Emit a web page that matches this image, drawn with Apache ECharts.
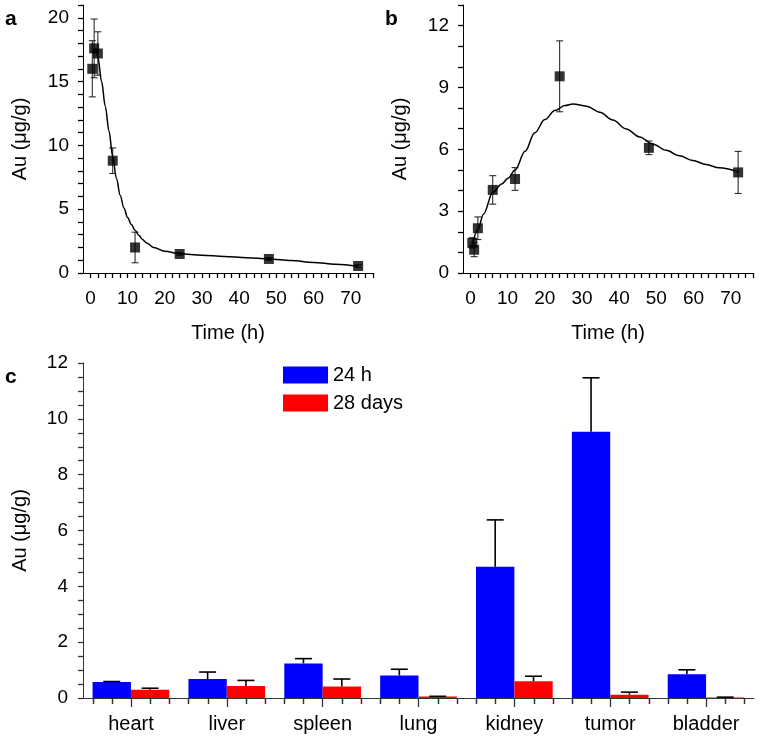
<!DOCTYPE html>
<html><head><meta charset="utf-8">
<script src="https://cdn.jsdelivr.net/npm/echarts@6/dist/echarts.min.js"></script>
<style>html,body{margin:0;padding:0;background:#fff}#c{width:759px;height:739px}</style>
</head><body><div id="c"></div>
<script>
// ---- Panel a (time course, blood) ----
const timeA = [0.5, 1, 2, 6, 12, 24, 48, 72];
const valueA = [16.0, 17.6, 17.2, 8.8, 2.0, 1.49, 1.1, 0.55];
const errA = [2.2, 2.3, 1.7, 1.0, 1.2, 0.1, 0.1, 0.1];
const fitTimeA = [1.5, 2, 3, 4, 5, 6, 7, 8, 9, 10, 11, 12, 13, 14, 15, 17, 20, 24, 30, 36, 42, 48, 54, 60, 66, 72];
const fitValueA = [17.6, 16.9, 15.0, 13.05, 11.1, 9.1, 7.4, 6.1, 5.1, 4.35, 3.8, 3.35, 2.95, 2.63, 2.38, 2.0, 1.7, 1.5, 1.4, 1.3, 1.2, 1.1, 0.97, 0.83, 0.68, 0.52];
// ---- Panel b (time course, tumor) ----
const timeB = [0.5, 1, 2, 6, 12, 24, 48, 72];
const valueB = [1.46, 1.13, 2.17, 4.03, 4.56, 9.54, 6.07, 4.88];
const errB = [0.25, 0.34, 0.55, 0.69, 0.55, 1.72, 0.33, 1.02];
const fitTimeB = [0.5, 2, 3.5, 6, 8.4, 10.2, 12, 14.7, 17.3, 20, 22.7, 25.4, 27.6, 31.2, 34.8, 38.3, 41.9, 45.5, 49.1, 52.7, 56.2, 59.8, 63.4, 66.9, 72];
const fitValueB = [1.35, 2.1, 2.85, 3.9, 4.32, 4.61, 5.0, 5.9, 6.8, 7.44, 7.88, 8.12, 8.2, 8.09, 7.8, 7.42, 6.99, 6.6, 6.25, 5.95, 5.69, 5.46, 5.26, 5.1, 4.9];
// ---- Panel c (organ distribution) ----
const organs = ['heart', 'liver', 'spleen', 'lung', 'kidney', 'tumor', 'bladder'];
const seriesNames = ['24 h', '28 days'];
const val24h = [0.57, 0.68, 1.24, 0.81, 4.70, 9.54, 0.85];
const err24h = [0.02, 0.25, 0.17, 0.22, 1.68, 1.93, 0.16];
const val28d = [0.30, 0.43, 0.41, 0.05, 0.60, 0.12, 0.02];
const err28d = [0.05, 0.20, 0.27, 0.01, 0.18, 0.09, 0.01];
// ---- axis ranges / tick values ----
const timeRange = [-2, 76], timeStep = 10;
const auRangeA = [0, 21], auStepA = 5;
const auRangeB = [0, 13], auStepB = 3;
const auRangeC = [0, 12], auStepC = 2;
const timeLabels = [0, 10, 20, 30, 40, 50, 60, 70];
const timeAllTicks = [0, 2, 4, 6, 8, 10, 12, 14, 16, 18, 20, 22, 24, 26, 28, 30, 32, 34, 36, 38, 40, 42, 44, 46, 48, 50, 52, 54, 56, 58, 60, 62, 64, 66, 68, 70, 72, 74, 76];
const auLabelsA = [0, 5, 10, 15, 20];
const auAllTicksA = [0, 1, 2, 3, 4, 5, 6, 7, 8, 9, 10, 11, 12, 13, 14, 15, 16, 17, 18, 19, 20, 21];
const auLabelsB = [0, 3, 6, 9, 12];
const auAllTicksB = [0, 1, 2, 3, 4, 5, 6, 7, 8, 9, 10, 11, 12, 13];
const auLabelsC = [0, 2, 4, 6, 8, 10, 12];
const auAllTicksC = [0, 0.5, 1, 1.5, 2, 2.5, 3, 3.5, 4, 4.5, 5, 5.5, 6, 6.5, 7, 7.5, 8, 8.5, 9, 9.5, 10, 10.5, 11, 11.5, 12];

const FONT = 'Liberation Sans, Arial, sans-serif';
const TICK_FS = 19, NAME_FS = 20;
const chart = echarts.init(document.getElementById('c'), null, {renderer: 'canvas', width: 759, height: 739});

function timeAxis(grid) {
  return {
    type: 'value', gridIndex: grid, position: 'bottom', min: timeRange[0], max: timeRange[1],
    minInterval: timeStep, maxInterval: timeStep,
    name: 'Time (h)', nameLocation: 'middle', nameGap: 50,
    nameTextStyle: {fontFamily: FONT, fontSize: NAME_FS, color: '#000'},
    axisLine: {show: true, onZero: false, lineStyle: {color: '#000', width: 1}},
    axisTick: {show: true, inside: false, length: 5, customValues: timeAllTicks, lineStyle: {color: '#000', width: 1.3}},
    axisLabel: {customValues: timeLabels, margin: 16, fontFamily: FONT, fontSize: TICK_FS, color: '#000'},
    splitLine: {show: false}
  };
}
function auAxis(grid, range, labels, ticks, margin, color) {
  return {
    type: 'value', gridIndex: grid, position: 'left', min: range[0], max: range[1],
    name: 'Au (μg/g)', nameLocation: 'middle', nameGap: 53,
    nameTextStyle: {fontFamily: FONT, fontSize: NAME_FS, color: '#000'},
    axisLine: {show: true, onZero: false, lineStyle: {color: color, width: 1}},
    axisTick: {show: true, length: 5, customValues: ticks, lineStyle: {color: color, width: 1.3}},
    axisLabel: {customValues: labels, margin: margin, fontFamily: FONT, fontSize: TICK_FS, color: '#000'},
    splitLine: {show: false}
  };
}

function pointErrRender(params, api) {
  const x = api.value(0), y = api.value(1), e = api.value(2);
  const top = api.coord([x, y + e]), bot = api.coord([x, y - e]);
  const cap = 3.5;
  const st = {stroke: '#1a1a1a', lineWidth: 1};
  return {type: 'group', children: [
    {type: 'line', shape: {x1: top[0], y1: top[1], x2: bot[0], y2: bot[1]}, style: st},
    {type: 'line', shape: {x1: top[0] - cap, y1: top[1], x2: top[0] + cap, y2: top[1]}, style: st},
    {type: 'line', shape: {x1: bot[0] - cap, y1: bot[1], x2: bot[0] + cap, y2: bot[1]}, style: st}
  ]};
}
// bar error bars drawn on an overlay value axis spanning the same category bands (-0.5 .. 6.5)
const BAR_HALF_OFFSET = 0.2; // each bar is 0.4 of a band, the pair centred on the band
function barErrRender(params, api) {
  const idx = api.value(0), v = api.value(1), e = api.value(2), side = api.value(3);
  const xc = idx + side * BAR_HALF_OFFSET;
  const base = api.coord([xc, v]), top = api.coord([xc, v + e]);
  const cap = 8.5;
  const st = {stroke: '#000', lineWidth: 1.6};
  return {type: 'group', children: [
    {type: 'line', shape: {x1: base[0], y1: base[1], x2: base[0], y2: top[1]}, style: st},
    {type: 'line', shape: {x1: base[0] - cap, y1: top[1], x2: base[0] + cap, y2: top[1]}, style: st}
  ]};
}

const pairs = (xs, ys) => xs.map((x, i) => [x, ys[i]]);
const errData = (xs, ys, es) => xs.map((x, i) => [x, ys[i], es[i]]);
const barTickValues = [];
organs.forEach((o, i) => { barTickValues.push(i - 2 * BAR_HALF_OFFSET, i - BAR_HALF_OFFSET, i + BAR_HALF_OFFSET, i + 2 * BAR_HALF_OFFSET); });

const labelGraphics = [
  {type: 'text', left: 5, top: 9, style: {text: 'a', font: 'bold 21px ' + FONT, fill: '#000'}},
  {type: 'text', left: 385, top: 9, style: {text: 'b', font: 'bold 21px ' + FONT, fill: '#000'}},
  {type: 'text', left: 5, top: 367, style: {text: 'c', font: 'bold 21px ' + FONT, fill: '#000'}}
];

const gridC = {left: 83, top: 363, width: 671, height: 335};
const option = {
  backgroundColor: '#fff',
  animation: false,
  grid: [
    {left: 83, top: 5, width: 290, height: 268},
    {left: 463, top: 5, width: 290, height: 268},
    gridC,
    Object.assign({}, gridC)
  ],
  legend: {
    data: seriesNames, orient: 'vertical', left: 283, top: 365, padding: 0,
    itemWidth: 45, itemHeight: 17, itemGap: 8, icon: 'rect',
    textStyle: {fontFamily: FONT, fontSize: NAME_FS, color: '#000'},
    selectedMode: false
  },
  graphic: labelGraphics,
  xAxis: [
    timeAxis(0),
    timeAxis(1),
    {
      type: 'category', gridIndex: 2, data: organs, position: 'bottom',
      axisLine: {show: true, lineStyle: {color: '#333', width: 1}},
      axisTick: {show: true, alignWithLabel: true, length: 9, lineStyle: {color: '#333', width: 1.3}},
      axisLabel: {margin: 16, fontFamily: FONT, fontSize: NAME_FS, color: '#000'},
      splitLine: {show: false}
    },
    {type: 'value', gridIndex: 3, position: 'bottom', min: -0.5, max: organs.length - 0.5, show: false}
  ],
  yAxis: [
    auAxis(0, auRangeA, auLabelsA, auAllTicksA, 14, '#000'),
    auAxis(1, auRangeB, auLabelsB, auAllTicksB, 14, '#000'),
    auAxis(2, auRangeC, auLabelsC, auAllTicksC, 15, '#333'),
    {type: 'value', gridIndex: 3, min: auRangeC[0], max: auRangeC[1], show: false}
  ],
  series: [
    {type: 'custom', xAxisIndex: 0, yAxisIndex: 0, renderItem: pointErrRender,
      data: errData(timeA, valueA, errA), encode: {x: 0, y: [1]}, z: 2, silent: true},
    {type: 'line', xAxisIndex: 0, yAxisIndex: 0, data: pairs(fitTimeA, fitValueA), smooth: 0.35, smoothMonotone: 'x',
      showSymbol: false, lineStyle: {color: '#000', width: 1.5}, z: 3, silent: true},
    {type: 'scatter', xAxisIndex: 0, yAxisIndex: 0, data: pairs(timeA, valueA), symbol: 'rect', symbolSize: 10,
      itemStyle: {color: '#000'}, z: 4, silent: true},

    {type: 'custom', xAxisIndex: 1, yAxisIndex: 1, renderItem: pointErrRender,
      data: errData(timeB, valueB, errB), encode: {x: 0, y: [1]}, z: 2, silent: true},
    {type: 'line', xAxisIndex: 1, yAxisIndex: 1, data: pairs(fitTimeB, fitValueB), smooth: 0.35, smoothMonotone: 'x',
      showSymbol: false, lineStyle: {color: '#000', width: 1.5}, z: 3, silent: true},
    {type: 'scatter', xAxisIndex: 1, yAxisIndex: 1, data: pairs(timeB, valueB), symbol: 'rect', symbolSize: 10,
      itemStyle: {color: '#000'}, z: 4, silent: true},

    {name: seriesNames[0], type: 'bar', xAxisIndex: 2, yAxisIndex: 2, data: val24h,
      barGap: '0%', barCategoryGap: '20%', itemStyle: {color: '#0000ff'}, silent: true},
    {name: seriesNames[1], type: 'bar', xAxisIndex: 2, yAxisIndex: 2, data: val28d,
      barGap: '0%', barCategoryGap: '20%', itemStyle: {color: '#ff0000'}, silent: true},
    {type: 'custom', xAxisIndex: 3, yAxisIndex: 3, renderItem: barErrRender, z: 5, silent: true,
      encode: {x: 0, y: [1]},
      data: organs.map((o, i) => [i, val24h[i], err24h[i], -1]).concat(organs.map((o, i) => [i, val28d[i], err28d[i], 1]))}
  ]
};
chart.setOption(option);

// short ticks under the bars (bar centres and edges), positioned through the overlay axis scale
const tickGraphics = [];
barTickValues.forEach(v => {
  const p = chart.convertToPixel({xAxisIndex: 3, yAxisIndex: 3}, [v, auRangeC[0]]);
  if (!p) return;
  const px = Math.round(p[0]) + 0.5, py = Math.round(p[1]) + 0.5;
  tickGraphics.push({type: 'line', silent: true, z: 10, shape: {x1: px, y1: py, x2: px, y2: py + 5.5},
    style: {stroke: '#333', lineWidth: 1.5}});
});
chart.setOption({graphic: labelGraphics.concat(tickGraphics)});
</script>
</body></html>
